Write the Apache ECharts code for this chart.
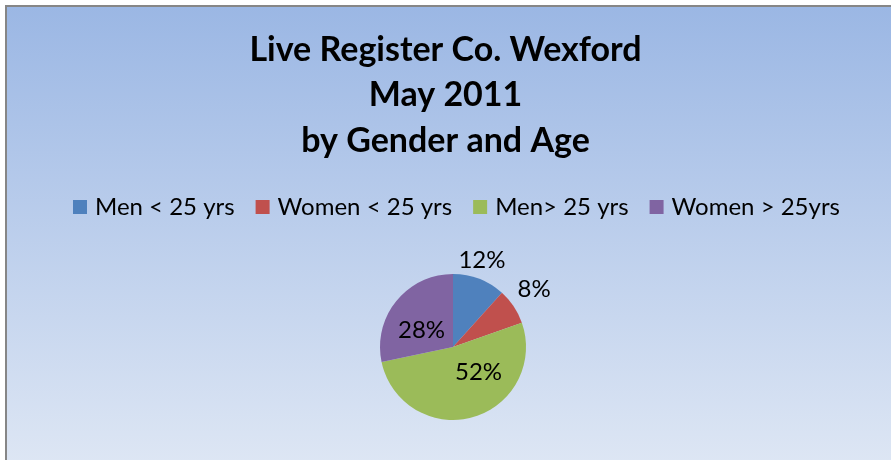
<!DOCTYPE html>
<html>
<head>
<meta charset="utf-8">
<script src="https://cdn.jsdelivr.net/npm/echarts@6/dist/echarts.min.js"></script>
<style>
    html, body { margin: 0; padding: 0; width: 891px; height: 460px; overflow: hidden; background: #fff; }
    #frame {
        position: absolute; left: 5px; top: 5px; width: 900px; height: 470px;
        border-left: 2px solid #868686; border-top: 2px solid #868686;
        background: linear-gradient(to bottom, #9bb7e4 0px, #dde6f4 455px);
    }
    #main { position: absolute; left: 0; top: 0; width: 891px; height: 460px; }
</style>
</head>
<body>
<div id="frame"></div>
<div id="main"></div>
<script>
// 数据
let categories = ['Men < 25 yrs', 'Women < 25 yrs', 'Men> 25 yrs', 'Women > 25yrs'];
let values = [11.7, 7.9, 52.1, 28.3];
let colors = ['#4f81bd', '#c0504d', '#9bbb59', '#8064a2'];

let titleLines = ['Live Register Co. Wexford', 'May 2011', 'by Gender and Age'];

// 每块扇区的标签位置 (length 为负时标签落在扇区内)
let labelSet = [
    { length: 20, length2: -33 },
    { length: 31, length2: -27 },
    { length: -47, length2: -10 },
    { length: -46, length2: -18 }
];

let myChart = echarts.init(document.getElementById('main'));

let data = categories.map((name, i) => {
    let set = labelSet[i];
    return {
        name: name,
        value: values[i],
        itemStyle: { color: colors[i] },
        labelLine: { show: false, length: set.length, length2: set.length2 }
    };
});

let option = {
    backgroundColor: 'transparent',
    animation: false,
    title: {
        text: titleLines.join('\n'),
        left: 'center',
        top: 22,
        textStyle: {
            fontFamily: 'Lato',
            fontWeight: 'bold',
            fontSize: 34,
            lineHeight: 45.5,
            color: '#000'
        }
    },
    legend: {
        data: categories,
        top: 190,
        left: 68,
        itemWidth: 14,
        itemHeight: 14,
        itemGap: 21,
        icon: 'rect',
        textStyle: {
            fontFamily: 'Lato',
            fontSize: 24,
            color: '#000',
            padding: [0, 0, 0, 3]
        }
    },
    series: [
        {
            type: 'pie',
            center: [453, 347],
            radius: 73,
            startAngle: 90,
            clockwise: true,
            avoidLabelOverlap: false,
            label: {
                show: true,
                position: 'outside',
                fontFamily: 'Lato',
                fontSize: 24,
                color: '#000',
                formatter: p => `${Math.round(p.percent)}%`
            },
            labelLine: { show: false },
            data: data
        }
    ]
};

myChart.setOption(option);
</script>
</body>
</html>
